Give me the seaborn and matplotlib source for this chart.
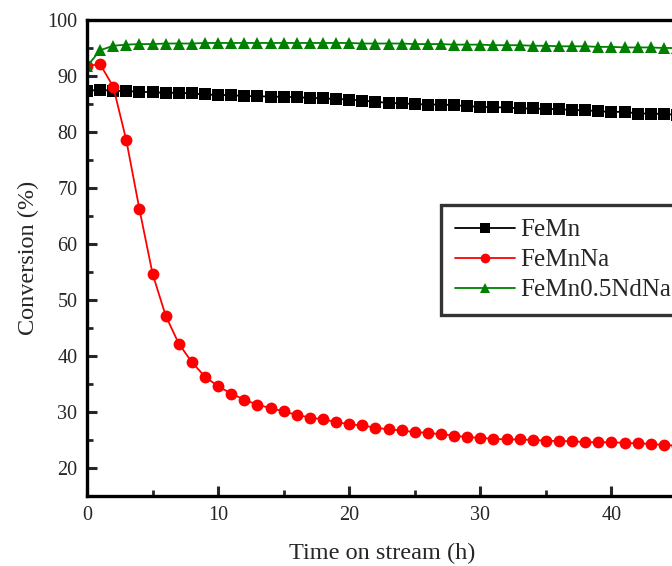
import numpy as np
import pandas as pd
import matplotlib
matplotlib.use("Agg")
import matplotlib.pyplot as plt
import seaborn as sns
from matplotlib.ticker import MultipleLocator

# time on stream (h), one point per hour
hours = list(range(0, 46))

femn = [87.4, 87.5, 87.4, 87.3, 87.2, 87.1, 87.0, 87.0, 86.9, 86.7,
        86.6, 86.6, 86.4, 86.4, 86.3, 86.3, 86.2, 86.1, 86.0, 85.9,
        85.8, 85.6, 85.4, 85.2, 85.1, 85.0, 84.9, 84.9, 84.8, 84.6,
        84.5, 84.4, 84.4, 84.2, 84.2, 84.1, 84.1, 83.9, 83.9, 83.7,
        83.6, 83.6, 83.3, 83.3, 83.2, 83.1]

femnna = [91.8, 92.1, 88.1, 78.5, 66.2, 54.7, 47.2, 42.2, 38.9, 36.3,
          34.6, 33.3, 32.2, 31.3, 30.7, 30.1, 29.5, 29.0, 28.7, 28.2,
          27.8, 27.6, 27.2, 26.9, 26.7, 26.4, 26.3, 26.0, 25.8, 25.5,
          25.4, 25.2, 25.1, 25.1, 25.0, 24.9, 24.8, 24.8, 24.6, 24.6,
          24.6, 24.5, 24.4, 24.3, 24.1, 24.0]

femn_nd = [91.7, 94.6, 95.4, 95.6, 95.7, 95.7, 95.8, 95.8, 95.8, 95.9,
           95.9, 95.9, 95.9, 95.9, 95.9, 95.9, 95.9, 95.9, 95.9, 95.9,
           95.9, 95.8, 95.8, 95.8, 95.8, 95.7, 95.7, 95.7, 95.6, 95.6,
           95.6, 95.5, 95.5, 95.5, 95.4, 95.4, 95.3, 95.3, 95.3, 95.2,
           95.2, 95.1, 95.1, 95.1, 95.0, 95.0]

labels = ["FeMn", "FeMnNa", "FeMn0.5NdNa"]
colors = ["black", "red", "green"]
markers = ["s", "o", "^"]

sns.set_style("ticks")
plt.rcParams["font.family"] = ["Liberation Serif", "DejaVu Serif"]

fig = plt.figure(figsize=(6.72, 5.66), dpi=100)
# the reference is cropped on the right, so the axes run just past the figure edge
ax = fig.add_axes([87 / 672, 70 / 566, 590 / 672, 476 / 566])

for vals, lab, col, mk in zip([femn, femnna, femn_nd], labels, colors, markers):
    sns.lineplot(x=hours, y=vals, ax=ax, color=col, marker=mk, label=lab,
                 markersize=8.5, markeredgewidth=0, linewidth=1.3)

ax.set_xlim(0, 45)
ax.set_ylim(15, 100)
ax.set_xticks([0, 10, 20, 30, 40])
ax.xaxis.set_minor_locator(MultipleLocator(5))
ax.set_yticks(range(20, 101, 10))
ax.yaxis.set_minor_locator(MultipleLocator(5))

ax.tick_params(which="major", direction="in", length=7, width=2.2, labelsize=14.5,
               pad=7, top=False, right=False)
ax.tick_params(which="minor", direction="in", length=4, width=2.0,
               top=False, right=False)
for sp in ax.spines.values():
    sp.set_linewidth(2.4)
    sp.set_color("black")

ax.set_xlabel("Time on stream (h)", fontsize=17.5, labelpad=13)
ax.set_ylabel("Conversion (%)", fontsize=17.5, labelpad=6)

leg = ax.legend(loc="upper left", bbox_to_anchor=(441 / 672, 1 - 205 / 566),
                bbox_transform=fig.transFigure, fontsize=18, frameon=True,
                fancybox=False, handlelength=2.4, borderpad=0.55,
                labelspacing=0.3, handletextpad=0.2, borderaxespad=0)
leg.get_frame().set_edgecolor("black")
leg.get_frame().set_linewidth(2.4)
for h in leg.legend_handles:
    h.set_markersize(7)

fig.savefig("out.png", dpi=100)
